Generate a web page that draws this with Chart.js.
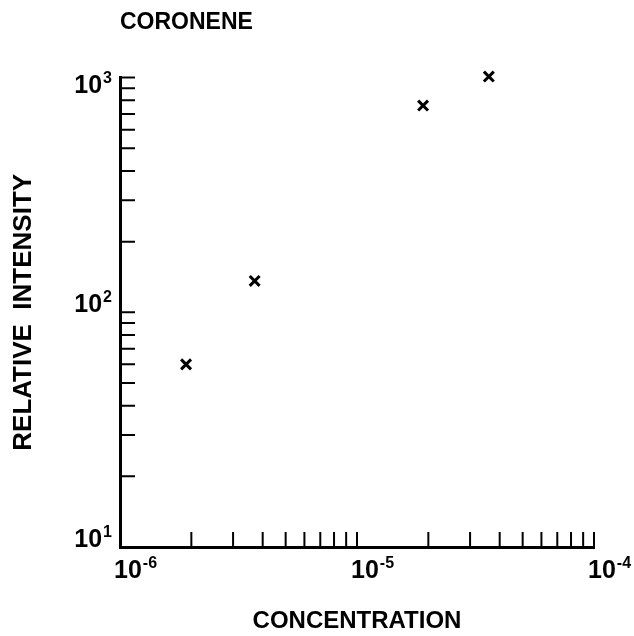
<!DOCTYPE html>
<html>
<head>
<meta charset="utf-8">
<script src="https://cdn.jsdelivr.net/npm/chart.js@4.4.0/dist/chart.umd.min.js"></script>
<style>
    html, body { margin: 0; padding: 0; background: #fff; }
    canvas { display: block; }
</style>
</head>
<body>
<canvas id="graficoCoroneno" width="634" height="636"></canvas>
<script>
// pontos medidos: concentração x intensidade relativa
const concentracao = [1.9e-6, 3.7e-6, 1.9e-5, 3.6e-5]
const intensidade = [60, 136, 760, 1010]

// décadas rotuladas nos eixos (base 10 + expoente)
const ticksX = [1e-6, 1e-5, 1e-4]
const expoentesX = ['-6', '-5', '-4']
const ticksY = [10, 100, 1000]
const expoentesY = ['1', '2', '3']

// traços curtos voltados para dentro do gráfico
const marcasX = [2e-6, 3e-6, 4e-6, 5e-6, 6e-6, 7e-6, 8e-6, 9e-6, 1e-5,
                 2e-5, 3e-5, 4e-5, 5e-5, 6e-5, 7e-5, 8e-5, 9e-5, 1e-4]
const marcasY = [20, 30, 40, 50, 60, 70, 80, 90, 100,
                 200, 300, 400, 500, 600, 700, 800, 900, 1000]

const fonte = "'Liberation Sans', Arial, sans-serif"

// escreve "10" com o expoente elevado; x é o início (ou o fim, se alinhado à direita)
function potencia(ctx, x, base, expoente, alinhamento) {
    ctx.font = `bold 25px ${fonte}`
    const largBase = ctx.measureText('10').width
    ctx.font = `bold 16px ${fonte}`
    const largExp = ctx.measureText(expoente).width
    const inicio = alinhamento === 'right' ? x - largBase - largExp - 1 : x

    ctx.textAlign = 'left'
    ctx.textBaseline = 'alphabetic'
    ctx.font = `bold 25px ${fonte}`
    ctx.fillText('10', inicio, base)
    ctx.font = `bold 16px ${fonte}`
    ctx.fillText(expoente, inicio + largBase + 1, base - 10)
}

const eixosLogaritmicos = {
    id: 'eixosLogaritmicos',
    afterDraw(chart) {
        const { ctx, chartArea, scales } = chart
        ctx.save()
        ctx.strokeStyle = '#000'
        ctx.fillStyle = '#000'
        ctx.lineWidth = 2
        ctx.beginPath()
        marcasY.forEach(v => {
            const y = scales.y.getPixelForValue(v)
            ctx.moveTo(chartArea.left, y)
            ctx.lineTo(chartArea.left + 15, y)
        })
        marcasX.forEach(v => {
            const x = scales.x.getPixelForValue(v)
            ctx.moveTo(x, chartArea.bottom)
            ctx.lineTo(x, chartArea.bottom - 15)
        })
        ctx.stroke()

        ticksX.forEach((v, i) => {
            const x = scales.x.getPixelForValue(v)
            potencia(ctx, x - 6, chartArea.bottom + 31, expoentesX[i], 'left')
        })
        ticksY.forEach((v, i) => {
            const y = scales.y.getPixelForValue(v)
            // o rótulo do topo fica abaixo da ponta do eixo
            const base = Math.max(y, chartArea.top + 15)
            potencia(ctx, chartArea.left - 8, base, expoentesY[i], 'right')
        })
        ctx.restore()
    }
}

const ctx = document.getElementById('graficoCoroneno').getContext('2d')
new Chart(ctx, {
    type: 'scatter',
    data: {
        datasets: [{
            data: concentracao.map((c, i) => ({ x: c, y: intensidade[i] })),
            pointStyle: 'crossRot',
            pointRadius: 7,
            borderWidth: 3,
            borderColor: '#000',
            backgroundColor: '#000',
            clip: false
        }]
    },
    options: {
        responsive: false,
        animation: false,
        layout: {
            padding: { left: 0, right: 40, top: 0, bottom: 0 }
        },
        scales: {
            x: {
                type: 'logarithmic',
                min: 1e-6,
                max: 1e-4,
                grid: { display: false, drawTicks: false },
                border: { display: true, color: '#000', width: 3 },
                ticks: { display: false },
                afterFit: (escala) => {
                    escala.height = 89
                    escala.paddingLeft = 0
                    escala.paddingRight = 0
                },
                title: {
                    display: true,
                    text: 'CONCENTRATION',
                    color: '#000',
                    font: { family: fonte, size: 24, weight: 'bold' },
                    padding: { top: 0, bottom: 0 }
                }
            },
            y: {
                type: 'logarithmic',
                min: 10,
                max: 1000,
                grid: { display: false, drawTicks: false },
                border: { display: true, color: '#000', width: 3 },
                ticks: { display: false },
                afterFit: (escala) => {
                    escala.width = 120
                    escala.paddingTop = 0
                    escala.paddingBottom = 0
                },
                title: {
                    display: true,
                    text: 'RELATIVE  INTENSITY',
                    color: '#000',
                    font: { family: fonte, size: 26, weight: 'bold' },
                    padding: { top: 8, bottom: 0 }
                }
            }
        },
        plugins: {
            legend: { display: false },
            tooltip: { enabled: false },
            title: {
                display: true,
                text: 'CORONENE',
                align: 'start',
                fullSize: false,
                color: '#000',
                font: { family: fonte, size: 23, weight: 'bold' },
                padding: { top: 9, bottom: 41 }
            }
        }
    },
    plugins: [eixosLogaritmicos]
})
</script>
</body>
</html>
